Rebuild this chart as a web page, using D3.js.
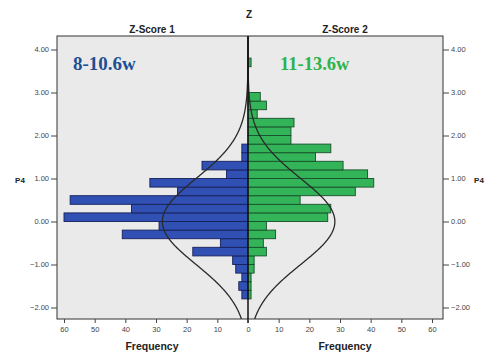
<!DOCTYPE html>
<html>
<head>
<meta charset="utf-8">
<script src="https://cdn.jsdelivr.net/npm/d3@7"></script>
<style>
html,body{margin:0;padding:0;background:#fff;}
svg{display:block;}
text{font-family:"Liberation Sans",Arial,sans-serif;}
text.serif{font-family:"Liberation Serif","Times New Roman",serif;}
</style>
</head>
<body>
<svg id="chart" width="485" height="356"></svg>
<script>
// ---- data ----
const binStarts = [-2.0,-1.8,-1.6,-1.4,-1.2,-1.0,-0.8,-0.6,-0.4,-0.2,0.0,0.2,0.4,0.6,0.8,1.0,1.2,1.4,1.6,1.8,2.0,2.2,2.4,2.6,2.8,3.0,3.2,3.4,3.6];
const binWidth = 0.2;
const freqScore1 = [0,2,3,2,4,5,18,9,41,29,60,38,58,23,32,7,15,2,2,0,0,0,0,0,0,0,0,0,0];
const freqScore2 = [0,1,1,1,2,2,6,5,9,6,26,27,17,35,41,39,31,22,27,14,14,15,3,6,4,0,0,0,1];
const yTicks = [-2,-1,0,1,2,3,4];
const xTicks = [0,10,20,30,40,50,60];
const curveMean = 0, curveSD = 1;
const panelTitles = ["Z-Score 1","Z-Score 2"];
const groupLabels = ["8-10.6w","11-13.6w"];

// ---- layout ----
const svg = d3.select("#chart");
const L = 57, R = 443, T = 36, B = 319, C = 248;
const y = d3.scaleLinear().domain([-2,4]).range([307.5,49.5]);
const xL = d3.scaleLinear().domain([0,60]).range([C,64]);
const xR = d3.scaleLinear().domain([0,60]).range([C,432]);

svg.append("rect").attr("x",L).attr("y",T).attr("width",R-L).attr("height",B-T).attr("fill","#eaeaea");

const defs = svg.append("defs");
defs.append("clipPath").attr("id","clip").append("rect").attr("x",L).attr("y",T).attr("width",R-L).attr("height",B-T);
const g = svg.append("g").attr("clip-path","url(#clip)");

function drawBars(freqs, xs, fill, stroke){
  const data = binStarts.map((b,i)=>({b, f:freqs[i]})).filter(d=>d.f>0);
  g.selectAll(null).data(data).enter().append("rect")
    .attr("x", d=>Math.min(xs(0), xs(d.f)))
    .attr("width", d=>Math.abs(xs(d.f)-xs(0)))
    .attr("y", d=>y(d.b+binWidth))
    .attr("height", d=>y(d.b)-y(d.b+binWidth))
    .attr("fill", fill).attr("stroke", stroke).attr("stroke-width",0.9);
}
drawBars(freqScore1, xL, "#3150b4", "#16205a");
drawBars(freqScore2, xR, "#33b459", "#17502a");

function drawCurve(freqs, xs){
  const n = d3.sum(freqs);
  const pts = d3.range(-2.4, 4.45, 0.02).map(v=>[v, n*binWidth*Math.exp(-0.5*Math.pow((v-curveMean)/curveSD,2))/(curveSD*Math.sqrt(2*Math.PI))]);
  g.append("path").datum(pts)
    .attr("d", d3.line().x(d=>xs(d[1])).y(d=>y(d[0])).curve(d3.curveBasis))
    .attr("fill","none").attr("stroke","#2a2a2a").attr("stroke-width",1.3);
}
drawCurve(freqScore1, xL);
drawCurve(freqScore2, xR);

// frame
svg.append("rect").attr("x",L).attr("y",T).attr("width",R-L).attr("height",B-T).attr("fill","none").attr("stroke","#333").attr("stroke-width",1);
svg.append("line").attr("x1",C).attr("x2",C).attr("y1",T).attr("y2",B+4).attr("stroke","#111").attr("stroke-width",1.5);

// y axes
const fmt = d3.format(".2f");
const yl = svg.append("g").attr("transform",`translate(${L},0)`).call(d3.axisLeft(y).tickValues(yTicks).tickFormat(fmt).tickSize(6).tickPadding(2));
const yr = svg.append("g").attr("transform",`translate(${R},0)`).call(d3.axisRight(y).tickValues(yTicks).tickFormat(fmt).tickSize(6).tickPadding(2));
// x axes
const xl = svg.append("g").attr("transform",`translate(0,${B})`).call(d3.axisBottom(xL).tickValues(xTicks).tickSize(4).tickPadding(4));
const xr = svg.append("g").attr("transform",`translate(0,${B})`).call(d3.axisBottom(xR).tickValues(xTicks.filter(v=>v>0)).tickSize(4).tickPadding(4));
[yl,yr,xl,xr].forEach(a=>{
  a.select(".domain").remove();
  a.selectAll("line").attr("stroke","#444");
  a.selectAll("text").attr("font-size",7.5).attr("fill","#444");
});

// titles
svg.append("text").attr("x",249).attr("y",18).attr("text-anchor","middle").attr("font-size",10).attr("font-weight","bold").attr("fill","#222").text("Z");
svg.append("text").attr("x",152).attr("y",33).attr("text-anchor","middle").attr("font-size",10).attr("font-weight","bold").attr("fill","#222").text(panelTitles[0]);
svg.append("text").attr("x",345).attr("y",33).attr("text-anchor","middle").attr("font-size",10).attr("font-weight","bold").attr("fill","#222").text(panelTitles[1]);
svg.append("text").attr("x",152).attr("y",350).attr("text-anchor","middle").attr("font-size",10.5).attr("font-weight","bold").attr("fill","#222").text("Frequency");
svg.append("text").attr("x",345).attr("y",350).attr("text-anchor","middle").attr("font-size",10.5).attr("font-weight","bold").attr("fill","#222").text("Frequency");
svg.append("text").attr("x",20).attr("y",183).attr("text-anchor","middle").attr("font-size",8).attr("font-weight","bold").attr("fill","#222").text("P4");
svg.append("text").attr("x",479).attr("y",183).attr("text-anchor","middle").attr("font-size",8).attr("font-weight","bold").attr("fill","#222").text("P4");

// group labels
svg.append("text").attr("class","serif").attr("x",73).attr("y",70).attr("font-size",19).attr("font-weight","bold").attr("fill","#1d4f91").text(groupLabels[0]);
svg.append("text").attr("class","serif").attr("x",280).attr("y",70).attr("font-size",18.5).attr("font-weight","bold").attr("fill","#2db34a").text(groupLabels[1]);
</script>
</body>
</html>
